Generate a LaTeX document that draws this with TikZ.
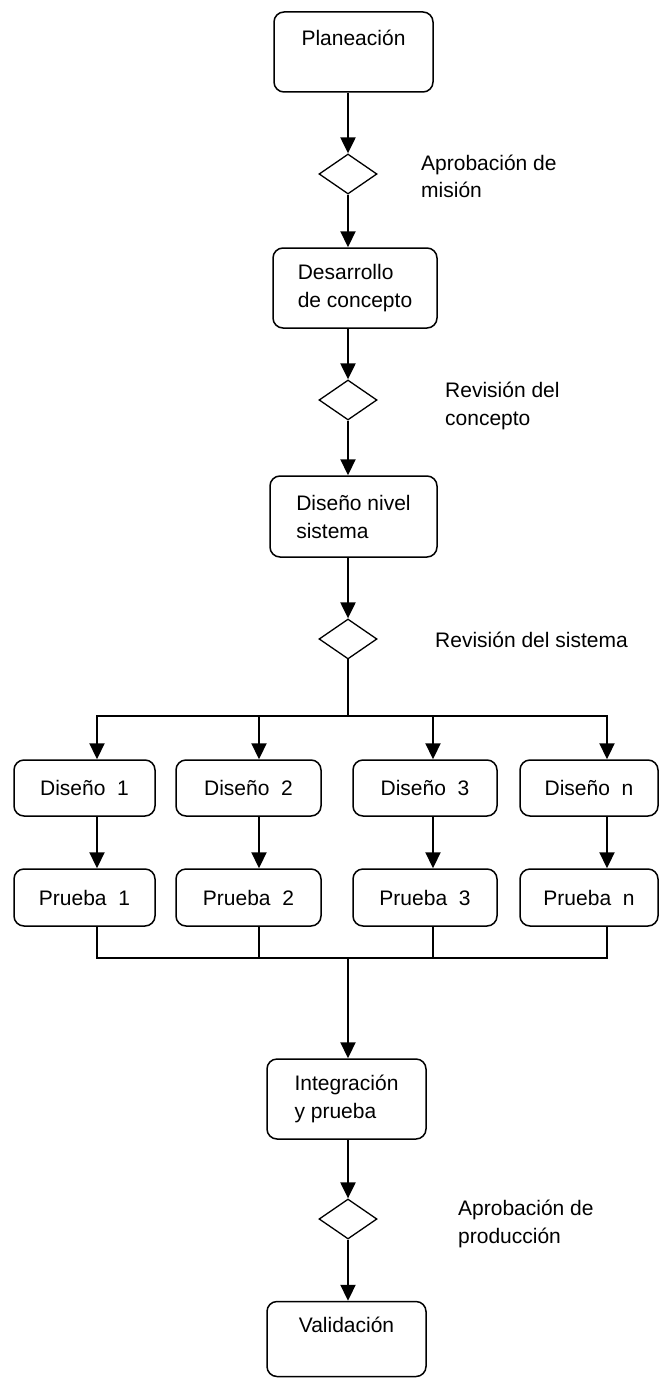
\documentclass[tikz,border=0pt]{standalone}
\usepackage{fontspec}
\setmainfont{Liberation Sans}
\usetikzlibrary{shapes.geometric,arrows.meta}

\begin{document}
\begin{tikzpicture}[x=1pt,y=-1pt,
  txt/.style={font=\fontsize{21}{28}\selectfont},
  box/.style={draw, rounded corners=10pt, line width=1.5pt, inner sep=0pt, align=left, txt},
  gate/.style={draw, diamond, line width=1.3pt, minimum width=58pt, minimum height=40pt, inner sep=0pt},
  flow/.style={line width=2.2pt, -{Triangle[length=16pt,width=15pt]}},
  wire/.style={line width=1.5pt, line cap=rect},
  note/.style={txt, anchor=base west, inner sep=0pt}
]
\useasboundingbox (0,0) rectangle (659,1378);

% main chain
\node[box, minimum width=159pt, minimum height=80pt] (plan) at (353.5,52) {Planeación\\\mbox{}};
\node[gate] (g1) at (348,174) {};
\node[note] (l1) at (421,170) {\begin{tabular}[t]{@{}l@{}}Aprobación de\\misión\end{tabular}};

\node[box, minimum width=164pt, minimum height=80pt] (desa) at (355,288) {Desarrollo\\de concepto};
\node[gate] (g2) at (348,400) {};
\node[note] (l2) at (445,397) {\begin{tabular}[t]{@{}l@{}}Revisión del\\concepto\end{tabular}};

\node[box, minimum width=167pt, minimum height=81pt] (disn) at (353.5,516.5) {Diseño nivel\\sistema};
\node[gate] (g3) at (348,639) {};
\node[note] (l3) at (435,647) {Revisión del sistema};

% parallel branches
\coordinate (bm) at (348,716);
\coordinate (b1) at (97,716);
\coordinate (b2) at (259,716);
\coordinate (b3) at (433,716);
\coordinate (b4) at (607,716);
\coordinate (mm) at (348,958);
\coordinate (m1) at (97,958);
\coordinate (m2) at (259,958);
\coordinate (m3) at (433,958);
\coordinate (m4) at (607,958);

\node[box, minimum width=141pt, minimum height=56pt] (dz1) at (84.5,788) {Diseño\ \ 1};
\node[box, minimum width=145pt, minimum height=56pt] (dz2) at (248.5,788) {Diseño\ \ 2};
\node[box, minimum width=144pt, minimum height=56pt] (dz3) at (425,788) {Diseño\ \ 3};
\node[box, minimum width=138pt, minimum height=56pt] (dz4) at (589,788) {Diseño\ \ n};

\node[box, minimum width=141pt, minimum height=57pt] (pz1) at (84.5,897.5) {Prueba\ \ 1};
\node[box, minimum width=145pt, minimum height=57pt] (pz2) at (248.5,897.5) {Prueba\ \ 2};
\node[box, minimum width=144pt, minimum height=57pt] (pz3) at (425,897.5) {Prueba\ \ 3};
\node[box, minimum width=138pt, minimum height=57pt] (pz4) at (589,897.5) {Prueba\ \ n};

\node[box, minimum width=159pt, minimum height=80pt] (integ) at (346.5,1099) {Integración\\y prueba};
\node[gate] (g4) at (348,1219) {};
\node[note] (l4) at (458,1215) {\begin{tabular}[t]{@{}l@{}}Aprobación de\\producción\end{tabular}};
\node[box, minimum width=159pt, minimum height=75pt] (valid) at (346.5,1339) {Validación\\\mbox{}};

% connectors
\draw[flow] (plan.south -| g1.north) -- (g1.north);
\draw[flow] (g1.south) -- (desa.north -| g1.south);
\draw[flow] (desa.south -| g2.north) -- (g2.north);
\draw[flow] (g2.south) -- (disn.north -| g2.south);
\draw[flow] (disn.south -| g3.north) -- (g3.north);
\draw[wire] (g3.south) -- (bm);
\draw[wire] (b1) -- (b4);
\foreach \i in {1,...,4}{
  \draw[flow] (b\i) -- (dz\i.north -| b\i);
  \draw[flow] (dz\i.south -| b\i) -- (pz\i.north -| b\i);
  \draw[wire] (pz\i.south -| b\i) -- (m\i);
}
\draw[wire] (m1) -- (m4);
\draw[flow] (mm) -- (integ.north -| mm);
\draw[flow] (integ.south -| g4.north) -- (g4.north);
\draw[flow] (g4.south) -- (valid.north -| g4.south);
\end{tikzpicture}
\end{document}
